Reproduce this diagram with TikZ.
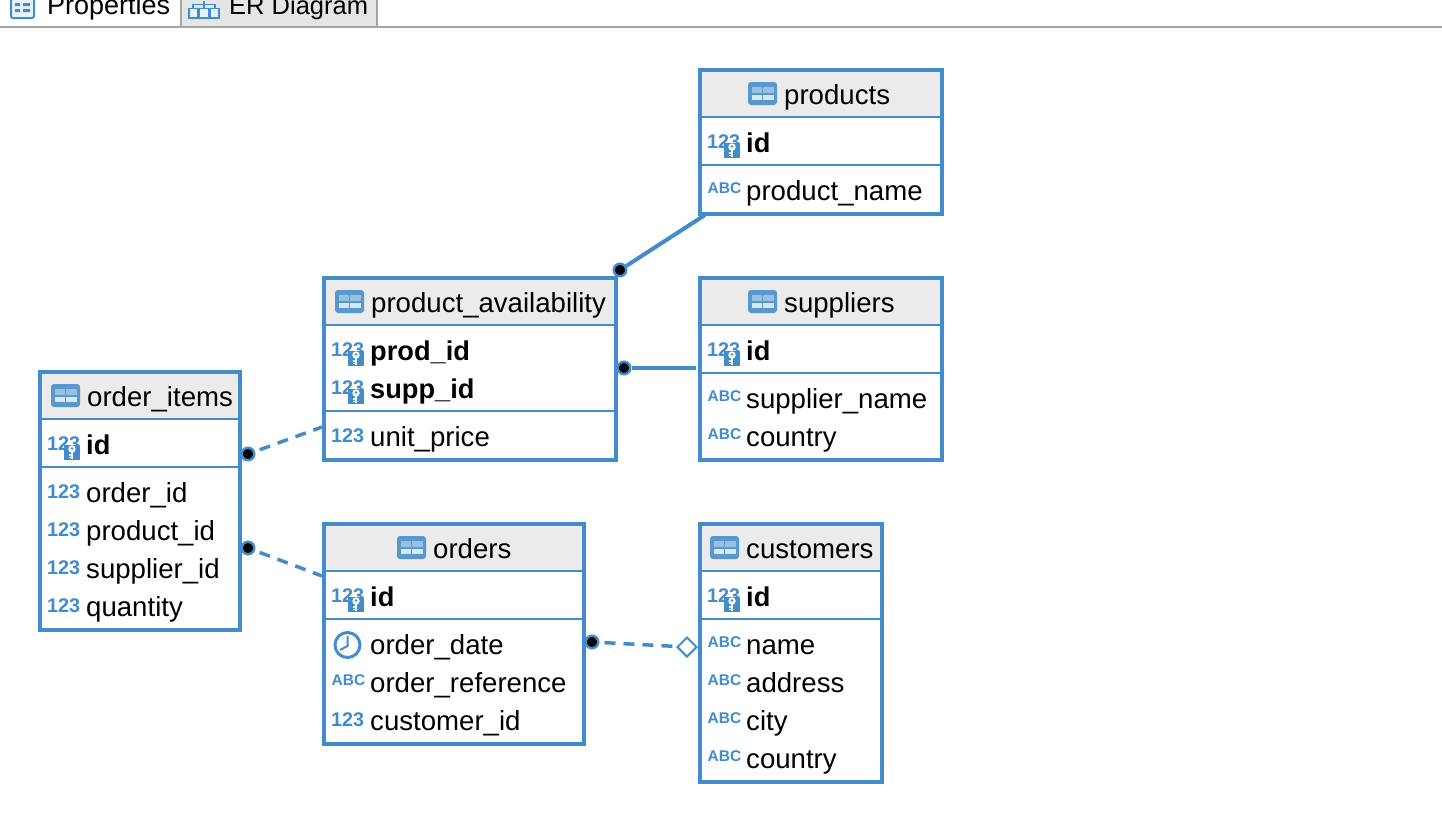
\documentclass[tikz,border=0pt]{standalone}
\usepackage{fontspec}
\setmainfont{Liberation Sans}
\usepackage{xcolor}
\usetikzlibrary{shapes, arrows}
\definecolor{erblue}{HTML}{428CCB}
\definecolor{erhead}{HTML}{EBEBEB}
\definecolor{tabgrey}{HTML}{A3A3A3}
\definecolor{tabfill}{HTML}{E5E5E5}
\definecolor{iconblue}{HTML}{5A97CF}
\tikzset{
  tablebox/.style={rectangle,draw=erblue,line width=4,fill=white,anchor=north west,inner sep=0,outer sep=0},
  headbox/.style={rectangle,fill=erhead,anchor=north west,inner sep=0,outer sep=0},
  coltext/.style={anchor=base west,inner sep=0,font=\fontsize{27.6}{30}\selectfont},
  keytext/.style={coltext,font=\fontsize{27.2}{30}\selectfont\bfseries},
  tabtext/.style={anchor=base west,inner sep=0,font=\fontsize{27}{30}\selectfont},
  numtag/.style={anchor=base west,inner sep=0,text=erblue,font=\fontsize{19.8}{22}\selectfont\bfseries},
  abctag/.style={anchor=base west,inner sep=0,text=erblue,font=\fontsize{15.5}{18}\selectfont\bfseries},
  rowline/.style={draw=erblue,line width=2},
  fksolid/.style={draw=erblue,line width=4},
  fkdashed/.style={draw=erblue,line width=3.5,dash pattern=on 11 off 8,dash phase=14},
  fkdot/.style={circle,fill=black,draw=erblue,line width=2.5,minimum size=12.5,inner sep=0},
  fkdiamond/.style={diamond,fill=white,draw=erblue,line width=2,minimum size=20,inner sep=0}
}
% table frame: name, left, top, width, height
\newcommand{\ertable}[5]{
  \node[tablebox,minimum width=#4,minimum height=#5] (#1) at (#2,#3) {};
  \node[headbox,minimum width=#4-4,minimum height=45] (#1head) at (#2+2,#3+2) {};
  \draw[rowline] (#1.west |- 0,#3+47) -- (#1.east |- 0,#3+47);
}
% title with the table glyph: name, icon left, baseline, text
\newcommand{\ertitle}[4]{
  \fill[iconblue,rounded corners=3] (#2,#3-22) rectangle (#2+29,#3+1);
  \fill[erblue!55!white] (#2+3.5,#3-17) rectangle (#2+13.8,#3-11.5);
  \fill[erblue!55!white] (#2+15.2,#3-17) rectangle (#2+25.5,#3-11.5);
  \fill[erblue!22!white] (#2+3.5,#3-9.5) rectangle (#2+13.8,#3-4);
  \fill[erblue!22!white] (#2+15.2,#3-9.5) rectangle (#2+25.5,#3-4);
  \node[coltext] (#1title) at (#2+36,#3) {#4};
}
\newcommand{\rowsep}[2]{
  \draw[rowline] (#1.west |- 0,#2) -- (#1.east |- 0,#2);
}
% columns: name, table left, baseline, text
\newcommand{\keycol}[4]{
  \node[numtag] (#1tag) at (#2+7,#3-4) {123};
  \fill[erblue] (#2+24,#3-9) rectangle (#2+40,#3+6);
  \fill[white] (#2+32,#3-5) circle (3.7);
  \fill[erblue] (#2+32,#3-5.5) circle (1.3);
  \draw[white,line width=2] (#2+32,#3-2) -- (#2+32,#3+4.5);
  \draw[white,line width=1.3] (#2+32,#3+1) -- (#2+29,#3+1) (#2+32,#3+3.8) -- (#2+29,#3+3.8);
  \node[keytext] (#1) at (#2+46,#3) {#4};
}
\newcommand{\numcol}[4]{
  \node[numtag] (#1tag) at (#2+7,#3-4) {123};
  \node[coltext] (#1) at (#2+46,#3) {#4};
}
\newcommand{\abccol}[4]{
  \node[abctag] (#1tag) at (#2+7.5,#3-6.5) {ABC};
  \node[coltext] (#1) at (#2+46,#3) {#4};
}
\begin{document}
\begin{tikzpicture}[x=1pt,y=-1pt]
\useasboundingbox (0,0) rectangle (1442,838);
\clip (0,0) rectangle (1442,838);
% tab bar
\fill[tabfill] (182,-2) rectangle (376,26);
\draw[tabgrey,line width=2] (0,27) -- (1442,27);
\draw[tabgrey,line width=2] (181,-2) -- (181,27) (377,-2) -- (377,27);
\draw[erblue,line width=2,fill=erblue!12!white,rounded corners=2] (11,-4) rectangle (34,18);
\fill[erblue] (15,3) rectangle (20,6) (15,9) rectangle (20,12) (23,3) rectangle (30,6) (23,9) rectangle (30,12);
\node[tabtext] (propertiestab) at (47,14) {Properties};
\draw[erblue,line width=1.5] (204,1) -- (204,8) (193,8) -- (193,4.5) -- (215,4.5) -- (215,8);
\draw[erblue,line width=1.5,fill=erblue!12!white] (189,8.5) rectangle (198,18) (199.5,8.5) rectangle (208.5,18) (210,8.5) rectangle (219,18);
\node[tabtext,font=\fontsize{25.5}{30}\selectfont] (erdiagramtab) at (229,14) {ER Diagram};
% products
\ertable{products}{700}{70}{242}{144}
\rowsep{products}{165}
\ertitle{products}{748}{104}{products}
\keycol{productsid}{700}{152}{id}
\abccol{productname}{700}{200}{product\_name}
% product_availability
\ertable{availability}{324}{278}{292}{182}
\rowsep{availability}{411}
\ertitle{availability}{335}{312}{product\_availability}
\keycol{prodid}{324}{360}{prod\_id}
\keycol{suppid}{324}{398}{supp\_id}
\numcol{unitprice}{324}{446}{unit\_price}
% suppliers
\ertable{suppliers}{700}{278}{242}{182}
\rowsep{suppliers}{373}
\ertitle{suppliers}{748}{312}{suppliers}
\keycol{suppliersid}{700}{360}{id}
\abccol{suppliername}{700}{408}{supplier\_name}
\abccol{suppliercountry}{700}{446}{country}
% order_items
\ertable{orderitems}{40}{372}{200}{258}
\rowsep{orderitems}{467}
\ertitle{orderitems}{51}{406}{order\_items}
\keycol{orderitemsid}{40}{454}{id}
\numcol{orderid}{40}{502}{order\_id}
\numcol{productid}{40}{540}{product\_id}
\numcol{supplierid}{40}{578}{supplier\_id}
\numcol{quantity}{40}{616}{quantity}
% orders
\ertable{orders}{324}{524}{260}{220}
\rowsep{orders}{619}
\ertitle{orders}{397}{558}{orders}
\keycol{ordersid}{324}{606}{id}
\draw[erblue,line width=3] (347.5,645) circle (12.5);
\draw[erblue,line width=2] (347.5,636) -- (347.5,646) -- (340,650);
\node[coltext] (orderdate) at (370,654) {order\_date};
\abccol{orderreference}{324}{692}{order\_reference}
\numcol{customerid}{324}{730}{customer\_id}
% customers
\ertable{customers}{700}{524}{182}{258}
\rowsep{customers}{619}
\ertitle{customers}{710}{558}{customers}
\keycol{customersid}{700}{606}{id}
\abccol{customername}{700}{654}{name}
\abccol{customeraddress}{700}{692}{address}
\abccol{customercity}{700}{730}{city}
\abccol{customercountry}{700}{768}{country}
% connectors
\coordinate (productsend) at (705,215);
\coordinate (suppliersend) at (696,368);
\coordinate (availabilityend) at (322,427);
\coordinate (ordersend) at (322,576);
\node[fkdot] (availabilitydot) at (620,270) {};
\node[fkdot] (supplierdot) at (624,368) {};
\node[fkdot] (itemdot) at (248,454) {};
\node[fkdot] (orderdot) at (248,548) {};
\node[fkdot] (customerdot) at (592,642) {};
\node[fkdiamond] (customerdiamond) at (687,647) {};
\draw[fksolid] (availabilitydot) -- (productsend);
\draw[fksolid] (supplierdot) -- (suppliersend);
\draw[fkdashed] (itemdot) -- (availabilityend);
\draw[fkdashed] (orderdot) -- (ordersend);
\draw[fkdashed] (customerdot) -- (customerdiamond);
\end{tikzpicture}
\end{document}
